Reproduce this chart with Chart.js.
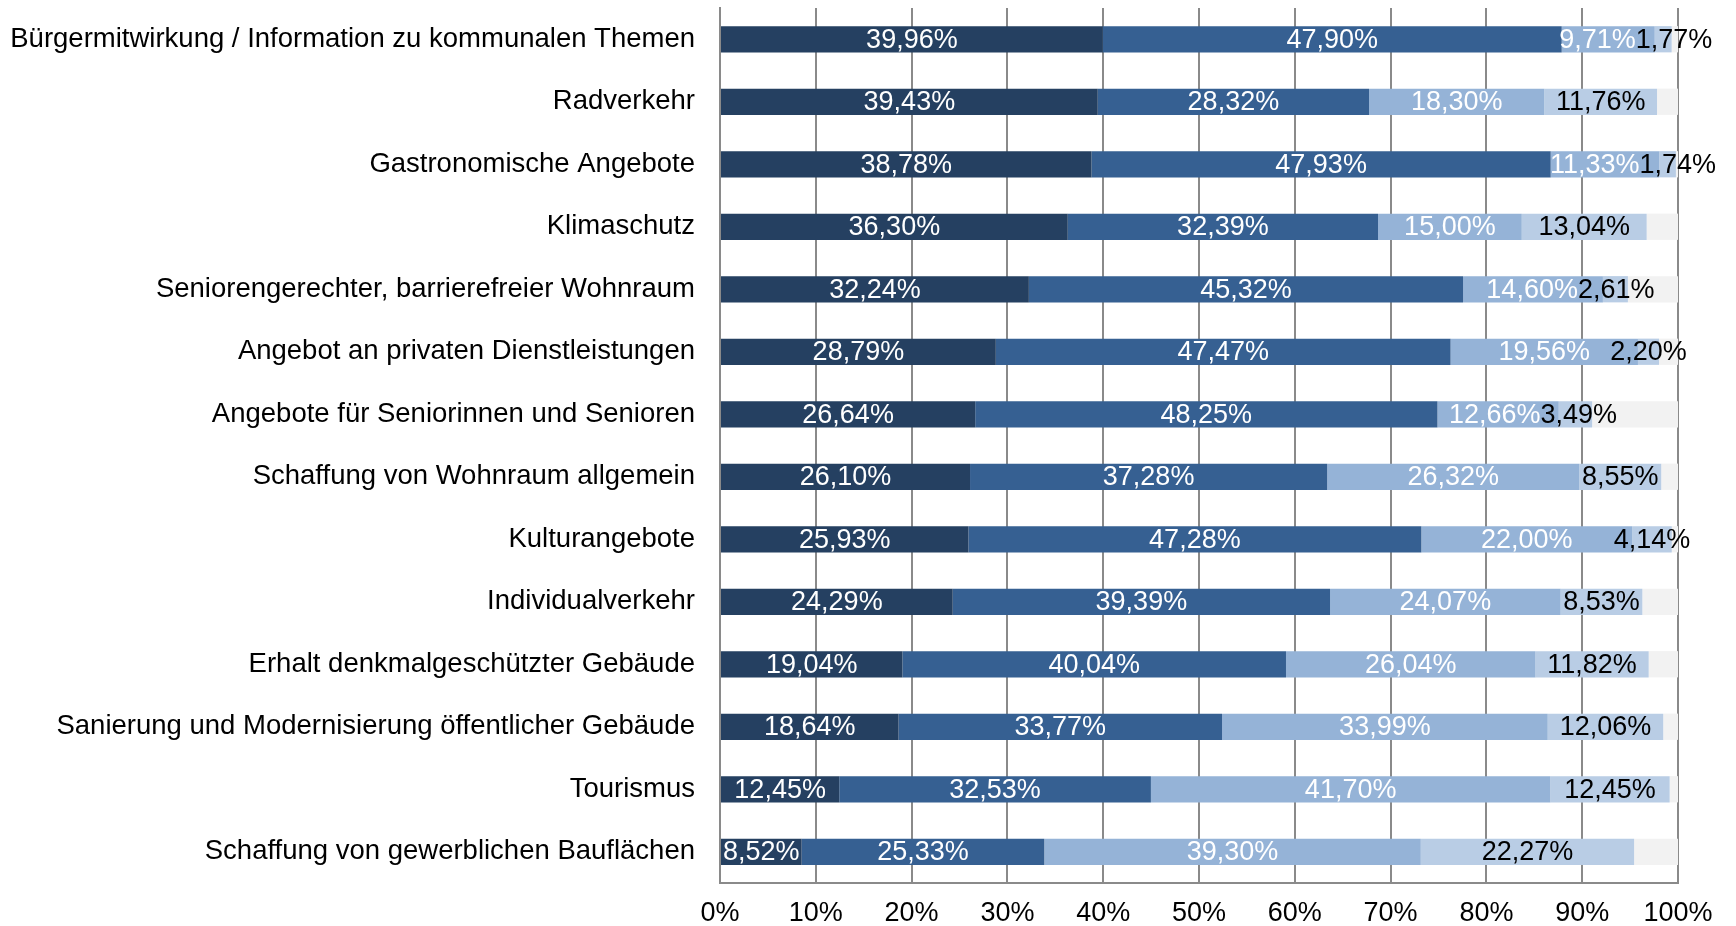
<!DOCTYPE html>
<html>
<head>
<meta charset="utf-8">
<script src="https://cdn.jsdelivr.net/npm/chart.js@4.4.1/dist/chart.umd.min.js"></script>
<style>
  html, body { margin: 0; padding: 0; background: #ffffff; }
  #wrap { width: 1736px; height: 926px; }
</style>
</head>
<body>
<div id="wrap"><canvas id="c" width="1736" height="926"></canvas></div>
<script>
const categories = [
  "Bürgermitwirkung / Information zu kommunalen Themen",
  "Radverkehr",
  "Gastronomische Angebote",
  "Klimaschutz",
  "Seniorengerechter, barrierefreier Wohnraum",
  "Angebot an privaten Dienstleistungen",
  "Angebote für Seniorinnen und Senioren",
  "Schaffung von Wohnraum allgemein",
  "Kulturangebote",
  "Individualverkehr",
  "Erhalt denkmalgeschützter Gebäude",
  "Sanierung und Modernisierung öffentlicher Gebäude",
  "Tourismus",
  "Schaffung von gewerblichen Bauflächen"
];
const series1 = [39.96, 39.43, 38.78, 36.30, 32.24, 28.79, 26.64, 26.10, 25.93, 24.29, 19.04, 18.64, 12.45, 8.52];
const series2 = [47.90, 28.32, 47.93, 32.39, 45.32, 47.47, 48.25, 37.28, 47.28, 39.39, 40.04, 33.77, 32.53, 25.33];
const series3 = [9.71, 18.30, 11.33, 15.00, 14.60, 19.56, 12.66, 26.32, 22.00, 24.07, 26.04, 33.99, 41.70, 39.30];
const series4 = [1.77, 11.76, 1.74, 13.04, 2.61, 2.20, 3.49, 8.55, 4.14, 8.53, 11.82, 12.06, 12.45, 22.27];
const series5 = [0.66, 2.19, 0.22, 3.27, 5.23, 1.98, 8.96, 1.75, 0.65, 3.72, 3.06, 1.54, 0.87, 4.58];
const xTickValues = [0, 10, 20, 30, 40, 50, 60, 70, 80, 90, 100];

const colors = ["#254061", "#366092", "#95B3D7", "#B9CDE5", "#F2F2F2"];
const labelColors = ["#ffffff", "#ffffff", "#ffffff", "#000000", null];
const FONT = "'Liberation Sans', Arial, sans-serif";

function fmt(v) { return v.toFixed(2).replace('.', ',') + '%'; }

const labelPlugin = {
  id: 'segLabels',
  afterDatasetsDraw(chart) {
    const ctx = chart.ctx;
    ctx.save();
    ctx.font = "27px " + FONT;
    ctx.textBaseline = 'middle';
    ctx.textAlign = 'left';
    const n = chart.data.labels.length;
    for (let i = 0; i < n; i++) {
      const items = [];
      chart.data.datasets.forEach((ds, d) => {
        if (!labelColors[d]) return;
        const el = chart.getDatasetMeta(d).data[i];
        const txt = fmt(ds.data[i]);
        const w = ctx.measureText(txt).width;
        const cx = (el.x + el.base) / 2;
        items.push({ txt, w, left: cx - w / 2, y: el.y, color: labelColors[d] });
      });
      for (let pass = 0; pass < 20; pass++) {
        let moved = false;
        for (let k = 0; k < items.length - 1; k++) {
          const a = items[k], b = items[k + 1];
          const ov = (a.left + a.w) - b.left;
          if (ov > 0.5) {
            a.left -= ov / 2;
            b.left += ov / 2;
            moved = true;
          }
        }
        if (!moved) break;
      }
      items.forEach(it => {
        ctx.fillStyle = it.color;
        ctx.fillText(it.txt, it.left, it.y + 1);
      });
    }
    ctx.restore();
  }
};

const datasetsSrc = [series1, series2, series3, series4, series5];
const chart = new Chart(document.getElementById('c'), {
  type: 'bar',
  data: {
    labels: categories,
    datasets: datasetsSrc.map((arr, d) => ({
      data: arr,
      backgroundColor: colors[d],
      borderWidth: 0,
      barPercentage: 0.42,
      categoryPercentage: 1.0
    }))
  },
  options: {
    indexAxis: 'y',
    responsive: false,
    animation: false,
    devicePixelRatio: 1,
    layout: { padding: { top: 8, right: 58, left: 0, bottom: 0 } },
    plugins: { legend: { display: false }, tooltip: { enabled: false } },
    scales: {
      x: {
        stacked: true,
        min: 0,
        max: 100,
        afterBuildTicks(scale) { scale.ticks = xTickValues.map(v => ({ value: v })); },
        afterFit(scale) { scale.height = 43; scale.paddingLeft = 0; scale.paddingRight = 0; },
        ticks: {
          callback: (v) => v + '%',
          color: '#000000',
          font: { family: FONT, size: 27 },
          padding: 14,
          maxRotation: 0
        },
        grid: { color: '#8a8a8a', lineWidth: 2, drawTicks: false },
        border: { display: true, color: '#8a8a8a', width: 2 }
      },
      y: {
        stacked: true,
        afterFit(scale) { scale.width = 720; scale.paddingTop = 0; scale.paddingBottom = 0; },
        ticks: {
          color: '#000000',
          font: { family: FONT, size: 27.5 },
          padding: 25,
          autoSkip: false
        },
        grid: { display: false, drawTicks: false },
        border: { display: true, color: '#8a8a8a', width: 2 }
      }
    }
  },
  plugins: [labelPlugin]
});
</script>
</body>
</html>
